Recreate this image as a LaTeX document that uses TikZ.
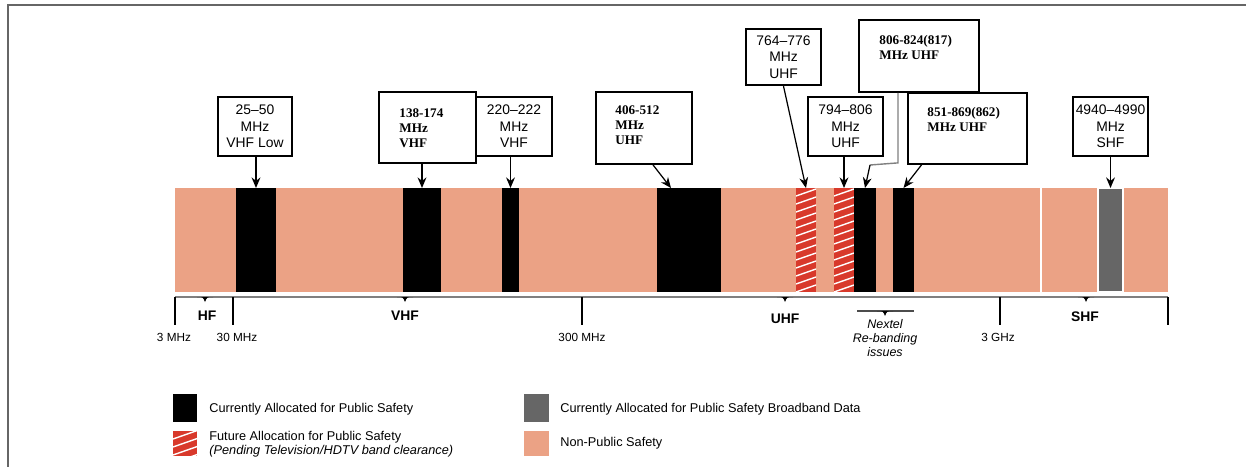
\documentclass[tikz,border=0pt]{standalone}
\usepackage{fontspec}
\setmainfont{Liberation Sans}
\newfontfamily\tms{Liberation Serif}
\usetikzlibrary{arrows.meta}
\definecolor{salmon}{HTML}{EBA285}
\definecolor{futred}{HTML}{D8392B}
\definecolor{bbgray}{HTML}{666666}

\begin{document}
\begin{tikzpicture}[x=0.02cm, y=-0.02cm,
	band/.style={inner sep=0, outer sep=0, minimum height=2.08cm, minimum width=#1*0.02cm},
	ps/.style={band=#1, fill=black},
	fut/.style={band=#1, fill=futred, path picture={
		\foreach \k in {1,...,14}
			\draw[white, line width=0.8pt] ([yshift=-\k*0.16cm]path picture bounding box.north west) -- ++(30,-10.5);}},
	callout/.style 2 args={draw, line width=1pt, inner sep=0, minimum width=#1*0.02cm, minimum height=#2*0.02cm},
	lbl/.style={font=\fontsize{7.9}{9.35}\selectfont, align=center},
	tlbl/.style={font=\tms\bfseries\fontsize{7.5}{8.5}\selectfont, align=left, inner sep=0, anchor=north west},
	arr/.style={line width=1.1pt, -{Stealth[length=6pt, width=5pt]}},
	thinarr/.style={line width=0.7pt, -{Stealth[length=6pt, width=5pt]}},
	axl/.style={font=\bfseries\fontsize{7.9}{9}\selectfont},
	freq/.style={font=\fontsize{6.7}{8}\selectfont},
	leg/.style={font=\fontsize{7.25}{7.9}\selectfont, inner sep=0, anchor=west, align=left}]

	\useasboundingbox (0,0) rectangle (1246,467);
	\draw[gray!80!black, line width=0.8pt] (1246,5) -- (8,5) -- (8,467);

	\node[band=993, fill=salmon] (bar) at (671.5,240) {};
	\draw[white, line width=0.6pt] (1041,188) -- (1041,292);

	\node[ps=40] (k25) at (256,240) {};
	\node[ps=38] (k138) at (422,240) {};
	\node[ps=17] (k220) at (510.5,240) {};
	\node[ps=64] (k406) at (689,240) {};
	\node[fut=20] (k764) at (806,240) {};
	\node[fut=20] (k794) at (844,240) {};
	\node[ps=22] (k806) at (865,240) {};
	\node[ps=21] (k851) at (903.5,240) {};
	\node[band=25, fill=bbgray, draw=white, line width=0.6pt] (k4940) at (1110.5,240) {};

	\node[callout={74}{59}, lbl] (b25) at (255,126.5) {25--50\\MHz\\VHF Low};
	\node[callout={97}{71}] (b138) at (427.5,127.5) {};
	\node[tlbl] at ([shift={(21,17)}]b138.north west) {138-174\\MHz\\VHF};
	\node[callout={76}{59}, lbl, fill=white] (b220) at (514,126.5) {220--222\\MHz\\VHF};
	\node[callout={96}{72}] (b406) at (644,128) {};
	\node[tlbl] at ([shift={(20,14)}]b406.north west) {406-512\\MHz\\UHF};
	\node[callout={75}{56}, lbl, line width=1.3pt] (b764) at (783.5,57) {764--776\\MHz\\UHF};
	\node[callout={75}{59}, lbl, line width=1.3pt] (b794) at (845.5,126.5) {794--806\\MHz\\UHF};
	\node[callout={120}{72}] (b806) at (919,56) {};
	\node[tlbl] at ([shift={(21,16)}]b806.north west) {806-824(817)\\MHz UHF};
	\node[callout={119}{71}] (b851) at (967.5,128.5) {};
	\node[tlbl] at ([shift={(20,15)}]b851.north west) {851-869(862)\\MHz UHF};
	\node[callout={75}{59}, lbl] (b4940) at (1110.5,126.5) {4940--4990\\MHz\\SHF};

	\draw[arr] (k25.north |- b25.south) -- (k25.north);
	\draw[arr] (k138.north |- b138.south) -- (k138.north);
	\draw[arr] (k220.north |- b220.south) -- (k220.north);
	\draw[thinarr] ([shift={(9,0)}]b406.south) -- ([shift={(-18,0)}]k406.north);
	\draw[thinarr] (b764.south) -- (k764.north);
	\draw[arr, line width=1.6pt] (k794.north |- b794.south) -- (k794.north);
	\coordinate (j806) at (870,165);
	\draw[gray, line width=0.8pt] ([shift={(-21,0)}]b806.south) -- ++(0,70) -- (j806);
	\draw[thinarr] (j806) -- (k806.north);
	\draw[thinarr] ([shift={(-46,0)}]b851.south) -- (k851.north);
	\draw[arr] (b4940.south) -- (k4940.north);

	\draw[gray, line width=0.9pt] (175,297) -- (1168,297);
	\foreach \t in {175,233,582,1000,1168}
		\draw[line width=1.4pt] (\t,297) -- (\t,325);
	\foreach \n in {205,405,785,1086}
		\fill (\n-8,297) .. controls (\n-2,297) .. (\n,302) .. controls (\n+2,297) .. (\n+8,297) -- cycle;
	\draw[gray!60!black, line width=0.9pt] (857,311) -- (914,311);
	\fill (877,311) .. controls (883,311) .. (885,316) .. controls (887,311) .. (893,311) -- cycle;

	\node[axl] (hf) at (207,316) {HF};
	\node[axl] (vhf) at (405,316) {VHF};
	\node[axl] (uhf) at (785,319) {UHF};
	\node[axl] (shf) at (1085,317) {SHF};

	\node[freq] (f3) at (174,337) {3 MHz};
	\node[freq] (f30) at (237,337) {30 MHz};
	\node[freq] (f300) at (582,337) {300 MHz};
	\node[freq] (f3g) at (998,337) {3 GHz};
	\node[font=\itshape\fontsize{7.1}{7.9}\selectfont, align=center] (nextel) at (885,338) {Nextel\\Re-banding\\issues};

	\node[ps=24, minimum height=0.56cm] (lps) at (185,408) {};
	\node[fut=24, minimum height=0.5cm] (lfut) at (185,443.5) {};
	\node[band=25, fill=bbgray, minimum height=0.56cm] (lbb) at (536.5,408) {};
	\node[band=25, fill=salmon, minimum height=0.5cm] (lnps) at (536.5,443.5) {};

	\node[leg] at (209,409) {Currently Allocated for Public Safety};
	\node[leg] at (209,444) {Future Allocation for Public Safety\\{\itshape (Pending Television/HDTV band clearance)}};
	\node[leg] at (560,409) {Currently Allocated for Public Safety Broadband Data};
	\node[leg] at (560,443) {Non-Public Safety};

\end{tikzpicture}
\end{document}
